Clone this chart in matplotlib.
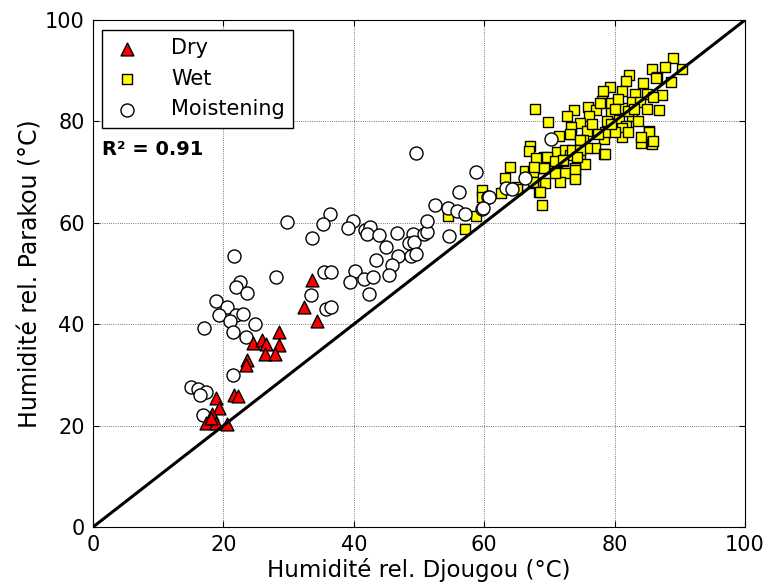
import matplotlib
matplotlib.use("Agg")
import matplotlib.pyplot as plt

dry_x = [33.6, 32.3, 34.3, 28.5, 24.5, 25.9, 26.6, 28.5, 26.4, 27.9, 23.6, 23.4,
         18.9, 21.6, 22.2, 19.3, 18.3, 17.4, 18.9, 20.6, 18.1]
dry_y = [48.7, 43.3, 40.7, 38.4, 36.2, 36.9, 36.0, 35.8, 34.1, 34.2, 32.9, 32.0,
         25.4, 26.0, 25.9, 23.4, 22.3, 20.6, 20.6, 20.3, 21.5]

moist_x = [33.6, 21.7, 28.0, 22.5, 21.9, 23.6, 33.5, 18.9, 20.5, 19.3, 21.9, 23.0,
           21.0, 24.9, 17.1, 21.5, 23.4, 35.5, 36.5, 35.8, 36.5, 21.5, 15.0, 16.1,
           17.4, 16.4, 16.8,
           49.5, 58.7, 56.2, 52.5, 54.4, 55.8, 57.1, 60.6, 59.6, 54.6, 36.3, 35.2,
           29.7, 39.9, 39.1, 41.7, 42.5, 42.1, 43.9, 45.0, 46.7, 49.1, 48.4, 49.2,
           50.8, 51.2, 51.3, 46.8, 48.8, 49.6, 43.4, 45.8, 45.4, 40.2, 39.4, 41.5,
           42.9, 42.3, 63.4, 70.2, 66.2, 64.2, 60.8, 59.8]
moist_y = [57.1, 53.5, 49.4, 48.4, 47.4, 46.2, 45.8, 44.6, 43.3, 41.8, 41.8, 42.0,
           40.7, 40.0, 39.2, 38.5, 37.5, 50.2, 50.2, 43.0, 43.4, 30.0, 27.6, 27.2,
           26.6, 26.0, 22.0,
           73.8, 70.1, 66.0, 63.5, 62.9, 62.3, 61.7, 65.0, 62.7, 57.3, 61.7, 59.7,
           60.2, 60.4, 59.0, 58.6, 59.1, 57.7, 57.5, 55.3, 58.0, 57.7, 56.0, 56.3,
           57.7, 58.2, 60.4, 53.5, 53.5, 53.8, 52.7, 51.7, 49.8, 50.4, 48.3, 48.9,
           49.4, 46.0, 66.8, 76.5, 68.9, 66.7, 65.1, 63.0]

wet_x = [88.9, 90.3, 87.7, 85.7, 86.5, 88.7, 82.2, 81.7, 84.3, 79.3, 78.2, 81.2,
         83.1, 84.9, 87.2, 85.9, 78.0, 79.4, 82.6, 83.9, 81.1, 84.9, 86.8, 67.8,
         73.8, 75.9, 77.2, 72.7, 76.1, 79.4, 82.7, 69.8, 74.7, 78.8, 80.6, 83.6,
         81.8, 81.1, 75.7, 73.3, 71.5, 78.3, 81.1, 85.3, 82.1, 84.0, 85.8, 67.0,
         66.9, 75.2, 77.0, 75.7, 78.4, 69.1, 71.1, 72.4, 73.2, 74.7, 68.3, 70.1,
         72.1, 75.5, 63.9, 66.3, 67.5, 69.2, 71.1, 74.0, 72.4, 74.0, 71.6, 69.4,
         67.8, 63.2, 65.0, 62.5, 68.4, 68.8, 59.6, 59.6,
         54.5, 57.0, 58.8, 77.8, 73.3, 78.5, 73.2, 74.7, 78.5, 73.4, 74.7, 68.0,
         69.6, 70.9, 72.1, 74.2, 67.7, 69.1, 73.9, 70.9, 73.9, 67.5, 65.0, 68.5,
         86.3, 85.2, 84.0, 85.9, 80.5, 82.0, 80.0, 83.0, 76.5, 77.5, 80.0, 79.5]
wet_y = [92.6, 90.3, 90.8, 90.3, 88.8, 87.7, 89.2, 88.0, 87.5, 86.7, 85.9, 86.0,
         85.5, 85.5, 85.2, 84.9, 84.0, 83.6, 83.9, 83.9, 82.6, 82.4, 82.2, 82.4,
         82.2, 82.9, 82.2, 81.1, 81.1, 81.6, 81.1, 79.9, 79.6, 80.0, 80.3, 80.0,
         79.0, 78.7, 78.2, 77.5, 77.2, 76.5, 76.9, 78.2, 78.0, 75.7, 75.5, 75.1,
         74.2, 76.3, 74.8, 74.7, 73.5, 73.0, 74.0, 74.4, 73.4, 72.7, 72.1, 71.7,
         72.1, 71.6, 71.1, 70.2, 70.1, 70.8, 70.1, 70.8, 69.8, 68.8, 68.1, 67.8,
         67.8, 68.8, 67.1, 65.8, 66.0, 63.5, 66.5, 65.1,
         61.3, 58.8, 61.3, 83.6, 78.9, 78.0, 77.5, 76.3, 73.6, 74.3, 74.3, 72.8,
         72.9, 72.1, 72.4, 73.0, 71.1, 70.8, 70.5, 69.8, 68.6, 68.1, 66.6, 66.1,
         88.6, 78.0, 77.0, 76.2, 84.5, 82.0, 82.5, 82.5, 79.5, 77.5, 78.0, 79.5]

labels = ["Dry", "Wet", "Moistening"]
r2_text = "R² = 0.91"
x_label = "Humidité rel. Djougou (°C)"
y_label = "Humidité rel. Parakou (°C)"
ticks = [0, 20, 40, 60, 80, 100]

fig = plt.figure(figsize=(7.67, 5.83), dpi=100)
ax = fig.add_axes([93/767, 1-527/583, (745-93)/767, (527-20)/583])

h_dry = ax.scatter(dry_x, dry_y, marker="^", s=85, c="red", edgecolors="black",
                   linewidths=1.0, zorder=4, label=labels[0])
h_wet = ax.scatter(wet_x, wet_y, marker="s", s=62, c="yellow", edgecolors="black",
                   linewidths=1.0, zorder=2, label=labels[1])
h_moist = ax.scatter(moist_x, moist_y, marker="o", s=88, c="white", edgecolors="black",
                     linewidths=1.0, zorder=3, label=labels[2])
ax.plot([0, 100], [0, 100], color="black", lw=2.2, zorder=5)

ax.set_xlim(0, 100)
ax.set_ylim(0, 100)
ax.set_xticks(ticks)
ax.set_yticks(ticks)
ax.tick_params(direction="in", length=4, labelsize=15, top=True, right=True, pad=6)
ax.grid(True, linestyle=":", color="black", lw=0.6, alpha=0.7)
ax.set_axisbelow(True)
ax.set_xlabel(x_label, fontsize=16.5, labelpad=2)
ax.set_ylabel(y_label, fontsize=17, labelpad=2)

leg = ax.legend(handles=[h_dry, h_wet, h_moist], loc="upper left", scatterpoints=1,
                fontsize=15, fancybox=False, edgecolor="black", framealpha=1,
                borderpad=0.4, handlelength=1.6, handletextpad=1.3,
                labelspacing=0.5, borderaxespad=0,
                bbox_to_anchor=(0.014, 0.980))
leg.get_frame().set_linewidth(1.0)

ax.text(0.014, 0.745, r2_text, transform=ax.transAxes, fontsize=14,
        fontweight="bold", va="center", ha="left")

fig.savefig("out.png", dpi=100)
